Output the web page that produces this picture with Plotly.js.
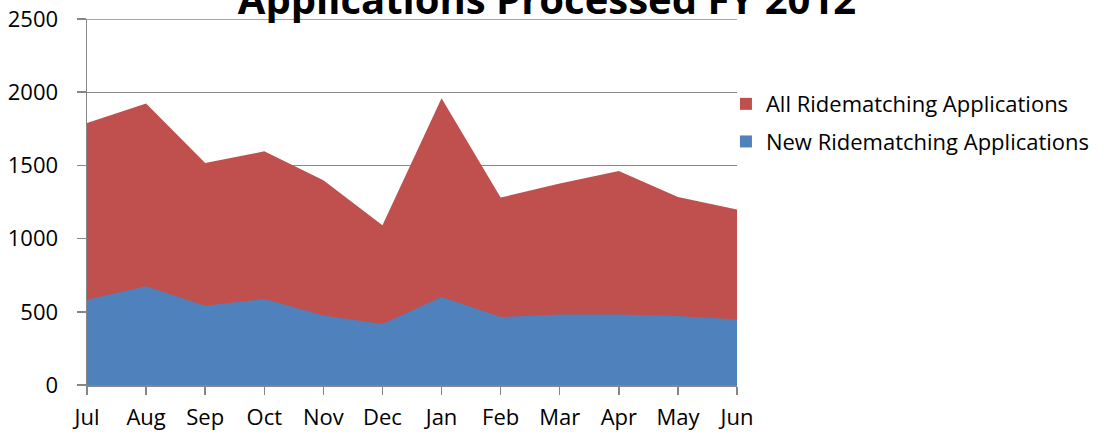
<!DOCTYPE html>
<html>
<head>
<meta charset="utf-8">
<script src="https://cdn.plot.ly/plotly-3.0.1.min.js"></script>
<style>html,body{margin:0;padding:0;background:#fff;}#chart{width:1110px;height:435px;}</style>
</head>
<body>
<div id="chart"></div>
<script>
const months = ["Jul","Aug","Sep","Oct","Nov","Dec","Jan","Feb","Mar","Apr","May","Jun"];
const allApps = [1790, 1922, 1516, 1596, 1398, 1091, 1958, 1280, 1376, 1462, 1284, 1198];
const newApps = [583, 674, 542, 587, 474, 417, 601, 464, 481, 481, 471, 447];
const seriesNames = ["All Ridematching Applications", "New Ridematching Applications"];
const seriesColors = ["#C0504D", "#4F81BD"];
const yTicks = [0, 500, 1000, 1500, 2000, 2500];
const yMax = 2500;

const traces = [
  {x: months, y: allApps, type: "scatter", mode: "lines", fill: "tozeroy",
   fillcolor: seriesColors[0], line: {width: 0, color: seriesColors[0]}, showlegend: false, hoverinfo: "x+y"},
  {x: months, y: newApps, type: "scatter", mode: "lines", fill: "tozeroy",
   fillcolor: seriesColors[1], line: {width: 0, color: seriesColors[1]}, showlegend: false, hoverinfo: "x+y"},
  {x: [null], y: [null], type: "scatter", mode: "markers", name: seriesNames[0], legendgroup: "a",
   marker: {symbol: "square", size: 12, color: seriesColors[0]}},
  {x: [null], y: [null], type: "scatter", mode: "markers", name: seriesNames[1], legendgroup: "b",
   marker: {symbol: "square", size: 12, color: seriesColors[1]}}
];

const layout = {
  width: 1110, height: 435,
  margin: {l: 87, r: 373, t: 19, b: 50},
  paper_bgcolor: "#fff", plot_bgcolor: "#fff",
  font: {family: "Open Sans, Noto Sans, sans-serif", color: "#000", size: 22},
  title: {text: "<b>Applications Processed FY 2012</b>", x: 547/1110, xref: "container", xanchor: "center",
          y: (435-14)/435, yref: "container", yanchor: "bottom",
          font: {family: "Open Sans, sans-serif", size: 40, color: "#000"}},
  xaxis: {type: "category", range: [0, 11], showgrid: false, showline: true, linecolor: "#868686", linewidth: 1.5,
          ticks: "outside", ticklen: 8, tickcolor: "#868686", tickwidth: 1.5, ticklabelstandoff: 4,
          tickfont: {size: 22}, fixedrange: true},
  yaxis: {range: [0, yMax], tickvals: yTicks, showgrid: true, gridcolor: "#888", gridwidth: 1.4,
          showline: true, linecolor: "#868686", linewidth: 1.5, ticks: "outside", ticklen: 9,
          tickcolor: "#868686", tickwidth: 1.5, tickfont: {size: 22}, ticklabelstandoff: 14,
          zeroline: false, fixedrange: true},
  shapes: [{type: "line", xref: "paper", x0: 0, x1: 1, yref: "y", y0: yMax, y1: yMax,
            line: {color: "#888", width: 1.4}, layer: "below"}],
  legend: {x: 0.983, xanchor: "left", y: 0.825, yanchor: "top", traceorder: "grouped", tracegroupgap: 6,
           font: {size: 22}, bgcolor: "rgba(0,0,0,0)"},
  showlegend: true
};

Plotly.newPlot("chart", traces, layout, {displayModeBar: false, staticPlot: true});
</script>
</body>
</html>
